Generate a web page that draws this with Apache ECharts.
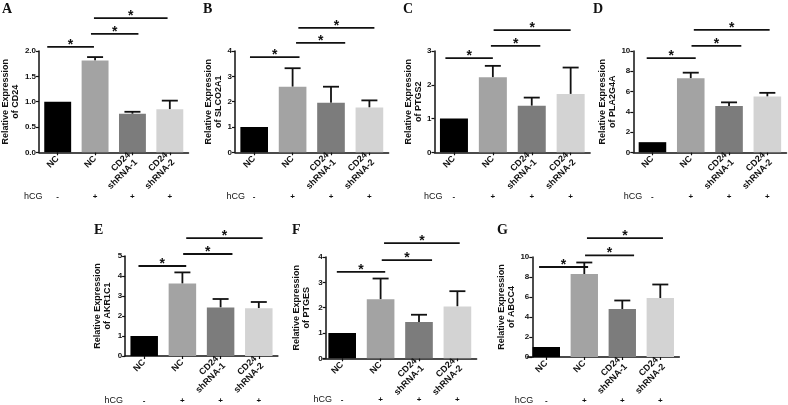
<!DOCTYPE html>
<html><head><meta charset="utf-8">
<script src="https://cdn.jsdelivr.net/npm/echarts@6/dist/echarts.min.js"></script>
<style>html,body{margin:0;padding:0;background:#fff}#c{width:788px;height:405px}</style>
</head><body><div id="c"></div>
<script>
// ---------------- data ----------------
const categories = ['NC', 'NC', 'CD24\nshRNA-1', 'CD24\nshRNA-2'];
const hcgRow = ['-', '+', '+', '+'];
const panelLetters = ['A', 'B', 'C', 'D', 'E', 'F', 'G'];
const genes = ['CD24', 'SLCO2A1', 'PTGS2', 'PLA2G4A', 'AKR1C1', 'PTGES', 'ABCC4'];
const yMaxes = [2, 4, 3, 10, 5, 4, 10];
const yIntervals = [0.5, 1, 1, 2, 1, 1, 2];
// bar means (NC, NC+hCG, shRNA-1, shRNA-2)
const meanA = [1.0, 1.81, 0.76, 0.85];
const meanB = [1.0, 2.59, 1.96, 1.77];
const meanC = [1.0, 2.22, 1.38, 1.73];
const meanD = [1.0, 7.3, 4.57, 5.5];
const meanE = [1.0, 3.62, 2.43, 2.39];
const meanF = [1.0, 2.33, 1.43, 2.05];
const meanG = [1.0, 8.3, 4.8, 5.9];
// upper ends of error bars (null = no bar)
const errTopA = [null, 1.88, 0.80, 1.02];
const errTopB = [null, 3.32, 2.59, 2.05];
const errTopC = [null, 2.56, 1.62, 2.51];
const errTopD = [null, 7.86, 4.93, 5.87];
const errTopE = [null, 4.18, 2.85, 2.70];
const errTopF = [null, 3.15, 1.72, 2.65];
const errTopG = [null, 9.45, 5.65, 7.25];
// significance brackets: [from category pos, to category pos, y level]
const sigA = [[-0.28, 0.97, 2.08], [0.89, 2.16, 2.34], [0.97, 2.94, 2.65]];
const sigB = [[-0.11, 1.18, 3.76], [1.09, 2.37, 4.32], [1.15, 3.13, 4.91]];
const sigC = [[-0.22, 1.0, 2.79], [0.95, 2.22, 3.15], [1.02, 3.0, 3.62]];
const sigD = [[-0.15, 1.13, 9.3], [1.02, 2.32, 10.5], [1.08, 3.06, 12.08]];
const sigE = [[-0.15, 1.1, 4.5], [1.02, 2.31, 5.1], [1.1, 3.1, 5.89]];
const sigF = [[-0.14, 1.12, 3.41], [1.03, 2.34, 3.88], [1.09, 3.06, 4.55]];
const sigG = [[-0.19, 1.1, 9.0], [1.02, 2.31, 10.16], [1.07, 3.07, 11.88]];

const means = [meanA, meanB, meanC, meanD, meanE, meanF, meanG];
const errTops = [errTopA, errTopB, errTopC, errTopD, errTopE, errTopF, errTopG];
const sigs = [sigA, sigB, sigC, sigD, sigE, sigF, sigG];

// ---------------- layout / style ----------------
const barColors = ['#000000', '#a3a3a3', '#7c7c7c', '#d3d3d3'];
const layout = [
  {left: 34.5, top: 51, width: 154, height: 101.3, yOff: 0, nameGap: 15.5, hcgGap: -3.5, rowOff: 44, letter: [2, 2]},
  {left: 235, top: 51, width: 153.6, height: 101.3, yOff: 0, nameGap: 10, hcgGap: -10, rowOff: 44.5, letter: [203, 2]},
  {left: 434.5, top: 51, width: 155.6, height: 101.3, yOff: 0, nameGap: 7, hcgGap: -8, rowOff: 44, letter: [403, 2]},
  {left: 633.3, top: 51, width: 153.2, height: 101.3, yOff: 0, nameGap: 15.5, hcgGap: -9, rowOff: 44, letter: [593, 2]},
  {left: 125.1, top: 256, width: 152.8, height: 101.3, yOff: 0, nameGap: 13, hcgGap: 2, rowOff: 44.5, letter: [94, 223]},
  {left: 323, top: 257, width: 153.6, height: 101.3, yOff: -2.7, nameGap: 14, hcgGap: -9, rowOff: 41, letter: [292, 223]},
  {left: 527.3, top: 257, width: 152, height: 101.3, yOff: -5, nameGap: 16, hcgGap: -6, rowOff: 43.5, letter: [497, 223]}
];
const FONT = 'Liberation Sans, Arial, sans-serif';

const grid = [], xAxis = [], yAxis = [], series = [], title = [];
layout.forEach((L, i) => {
  grid.push({left: L.left, top: L.top, width: L.width, height: L.height, containLabel: false});
  title.push({text: panelLetters[i], left: L.letter[0], top: L.letter[1], padding: 0,
    textStyle: {fontFamily: 'Liberation Serif, DejaVu Serif, serif', fontWeight: 'bold', fontSize: 14, color: '#111'}});
  xAxis.push({
    type: 'category', gridIndex: i, data: categories, boundaryGap: true,
    axisLine: {show: true, lineStyle: {color: '#111', width: 1.5}},
    axisTick: {show: true, alignWithLabel: true, length: 3, lineStyle: {color: '#111', width: 1.2}},
    axisLabel: {rotate: 45, interval: 0, fontSize: 9, fontWeight: 'bold', fontFamily: FONT, color: '#111', margin: 5, lineHeight: 10}
  });
  xAxis.push({
    type: 'category', gridIndex: i, data: hcgRow, position: 'bottom', offset: L.rowOff,
    axisLine: {show: false}, axisTick: {show: false}, splitLine: {show: false},
    axisLabel: {interval: 0, margin: 0, verticalAlign: 'middle', fontSize: 8, fontWeight: 'bold', fontFamily: FONT, color: '#111'},
    name: 'hCG', nameLocation: 'start', nameGap: L.hcgGap,
    nameTextStyle: {fontSize: 9, fontFamily: FONT, color: '#111', verticalAlign: 'middle', align: 'right'}
  });
  yAxis.push({
    type: 'value', gridIndex: i, min: 0, max: yMaxes[i], interval: yIntervals[i], offset: L.yOff,
    splitLine: {show: false},
    axisLine: {show: true, lineStyle: {color: '#111', width: 1.5}},
    axisTick: {show: true, length: 3, lineStyle: {color: '#111', width: 1.2}},
    axisLabel: {fontSize: 8, fontWeight: 'bold', fontFamily: FONT, color: '#111', margin: 3,
      formatter: v => (yIntervals[i] < 1 ? v.toFixed(1) : String(v))},
    name: 'Relative Expression\nof ' + genes[i], nameLocation: 'middle', nameRotate: 90, nameGap: L.nameGap,
    nameTextStyle: {fontSize: 9, fontWeight: 'bold', fontFamily: FONT, color: '#111', lineHeight: 10, verticalAlign: 'bottom'}
  });
  series.push({
    type: 'bar', xAxisIndex: 2 * i, yAxisIndex: i, barWidth: '72%', silent: true,
    data: means[i].map((v, k) => ({value: v, itemStyle: {color: barColors[k]}}))
  });
  series.push({
    type: 'custom', xAxisIndex: 2 * i, yAxisIndex: i, silent: true, clip: false,
    encode: {x: 0, y: [1, 2]},
    data: means[i].map((v, k) => [k, v, errTops[i][k] == null ? v : errTops[i][k]]).filter((d, k) => errTops[i][k] != null),
    renderItem: (params, api) => {
      const p1 = api.coord([api.value(0), api.value(1)]);
      const p2 = api.coord([api.value(0), api.value(2)]);
      const cap = 8;
      return {type: 'group', children: [
        {type: 'line', shape: {x1: p1[0], y1: p1[1], x2: p2[0], y2: p2[1]}, style: {stroke: '#111', lineWidth: 1.8}},
        {type: 'line', shape: {x1: p2[0] - cap, y1: p2[1], x2: p2[0] + cap, y2: p2[1]}, style: {stroke: '#111', lineWidth: 1.8}}
      ]};
    }
  });
  series.push({
    type: 'custom', xAxisIndex: 2 * i, yAxisIndex: i, silent: true, clip: false,
    encode: {x: 0, y: 3},
    data: sigs[i].map(s => [0, s[0], s[1], s[2]]),
    renderItem: (params, api) => {
      const base = api.coord([0, api.value(3)]);
      const bw = api.size([1, 0])[0];
      const x0 = base[0] + api.value(1) * bw, x1 = base[0] + api.value(2) * bw, y = base[1];
      return {type: 'group', children: [
        {type: 'line', shape: {x1: x0, y1: y, x2: x1, y2: y}, style: {stroke: '#111', lineWidth: 1.8}},
        {type: 'text', style: {text: '*', x: (x0 + x1) / 2, y: y + 5, align: 'center', verticalAlign: 'bottom',
          fontSize: 14, fontFamily: FONT, fontWeight: 'bold', fill: '#111'}}
      ]};
    }
  });
});

const chart = echarts.init(document.getElementById('c'), null, {renderer: 'canvas'});
chart.setOption({animation: false, backgroundColor: '#fff', title, grid, xAxis, yAxis, series});
</script></body></html>
